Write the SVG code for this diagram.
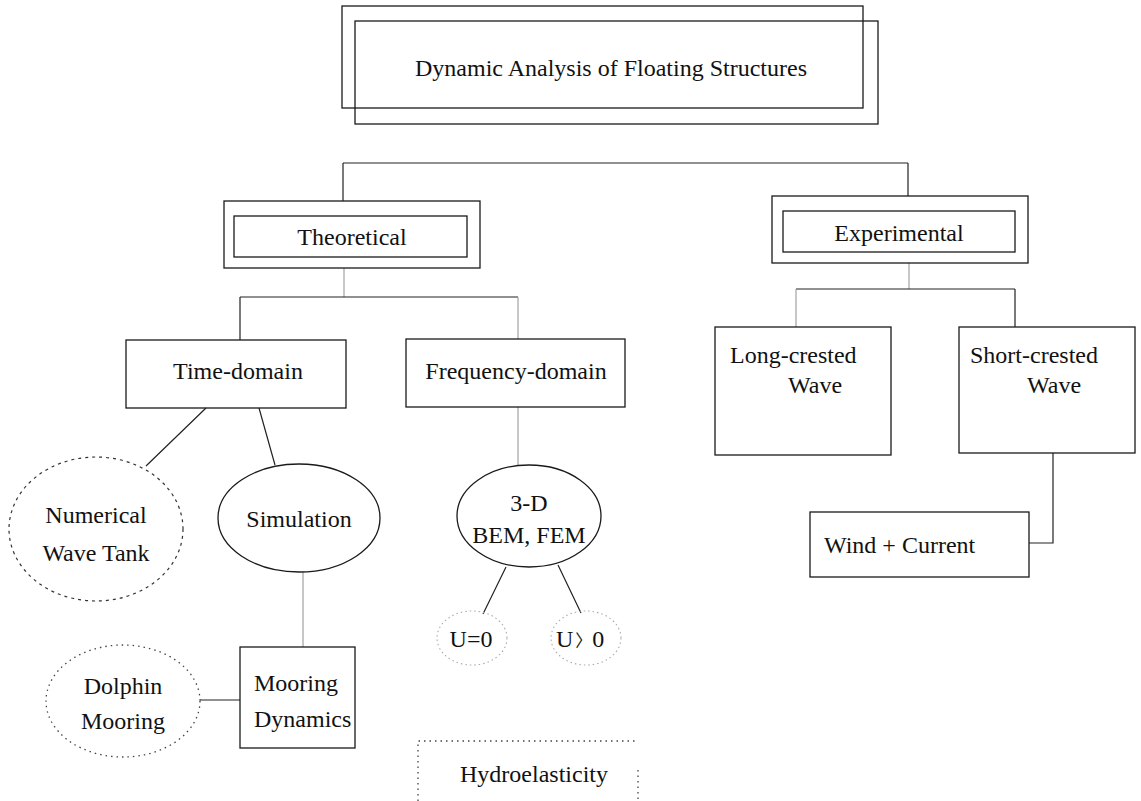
<svg xmlns="http://www.w3.org/2000/svg" width="1141" height="801" viewBox="0 0 1141 801">
<style>
.box{fill:none;stroke:#1a1a1a;stroke-width:1.3}
.ln{fill:none;stroke:#222;stroke-width:1.2}
.lt{fill:none;stroke:#999;stroke-width:1.1}
.dash{fill:none;stroke:#333;stroke-width:1.2;stroke-dasharray:3 4}
.dot{fill:none;stroke:#444;stroke-width:1.3;stroke-dasharray:1.5 4}
.ldot{fill:none;stroke:#aaa;stroke-width:1.1;stroke-dasharray:1.5 3}
text{font-family:"Liberation Serif","Noto Sans CJK KR",serif;font-size:24px;fill:#111}
.c{text-anchor:middle}
.br{font-size:17px}
</style>
<rect width="1141" height="801" fill="#fff"/>
<g id="connectors">
<path class="ln" d="M343,163 H908 M343,163 V201 M908,163 V196"/>
<path class="lt" d="M344,268 V297"/>
<path class="ln" d="M240,297 H518 M240,297 V340"/>
<path class="lt" d="M518,297 V339"/>
<path class="lt" d="M909,263 V289"/>
<path class="ln" d="M796,289 H1015 M1015,289 V327"/>
<path class="lt" d="M796,289 V327"/>
<path class="ln" d="M206,408 L146,466 M259,408 L275,465"/>
<path class="lt" d="M518,407 V465"/>
<path class="lt" d="M303,572 V647"/>
<path class="ln" d="M200,700 H240"/>
<path class="ln" d="M506,567 L483,614 M558,565 L581,613"/>
<path class="ln" d="M1053,453 V543 H1029"/>
</g>
<g id="title">
<rect class="box" x="342" y="6" width="521" height="102"/>
<rect class="box" x="355" y="21" width="523" height="103"/>
<text class="c" x="611" y="76">Dynamic Analysis of Floating Structures</text>
</g>
<g id="theoretical">
<rect class="box" x="224" y="201" width="256" height="67"/>
<rect class="box" x="234" y="216" width="233" height="41"/>
<text class="c" x="352" y="245">Theoretical</text>
</g>
<g id="experimental">
<rect class="box" x="772" y="196" width="256" height="67"/>
<rect class="box" x="783" y="211" width="232" height="41"/>
<text class="c" x="899" y="241">Experimental</text>
</g>
<g id="time-domain">
<rect class="box" x="126" y="340" width="220" height="68"/>
<text class="c" x="238" y="379">Time-domain</text>
</g>
<g id="frequency-domain">
<rect class="box" x="406" y="339" width="219" height="68"/>
<text class="c" x="516" y="379">Frequency-domain</text>
</g>
<g id="long-crested">
<rect class="box" x="715" y="327" width="176" height="128"/>
<text x="730" y="363">Long-crested</text>
<text x="788" y="393">Wave</text>
</g>
<g id="short-crested">
<rect class="box" x="959" y="327" width="176" height="126"/>
<text x="970" y="363">Short-crested</text>
<text x="1027" y="393">Wave</text>
</g>
<g id="wind-current">
<rect class="box" x="810" y="512" width="219" height="65"/>
<text x="824" y="553">Wind + Current</text>
</g>
<g id="numerical-wave-tank">
<ellipse class="dash" cx="96" cy="529" rx="87" ry="72"/>
<text class="c" x="96" y="523">Numerical</text>
<text class="c" x="96" y="561">Wave Tank</text>
</g>
<g id="simulation">
<ellipse class="box" cx="299" cy="518" rx="81" ry="54"/>
<text class="c" x="299" y="527">Simulation</text>
</g>
<g id="bem-fem">
<ellipse class="box" cx="529" cy="516" rx="72" ry="51"/>
<text class="c" x="529" y="511">3-D</text>
<text class="c" x="529" y="543">BEM, FEM</text>
</g>
<g id="u-zero">
<ellipse class="ldot" cx="472" cy="638" rx="35" ry="27"/>
<text class="c" x="471" y="647">U=0</text>
</g>
<g id="u-positive">
<ellipse class="ldot" cx="586" cy="638" rx="35" ry="27"/>
<text x="556" y="647">U<tspan class="br" dx="2">〉</tspan>0</text>
</g>
<g id="mooring-dynamics">
<rect class="box" x="240" y="647" width="115" height="101"/>
<text x="254" y="691">Mooring</text>
<text x="254" y="727">Dynamics</text>
</g>
<g id="dolphin-mooring">
<ellipse class="dot" cx="123" cy="701" rx="77" ry="56"/>
<text class="c" x="123" y="694">Dolphin</text>
<text class="c" x="123" y="729">Mooring</text>
</g>
<g id="hydroelasticity">
<path class="dot" d="M418,801 V741 H636 M638,770 V801"/>
<text class="c" x="534" y="782">Hydroelasticity</text>
</g>
</svg>
